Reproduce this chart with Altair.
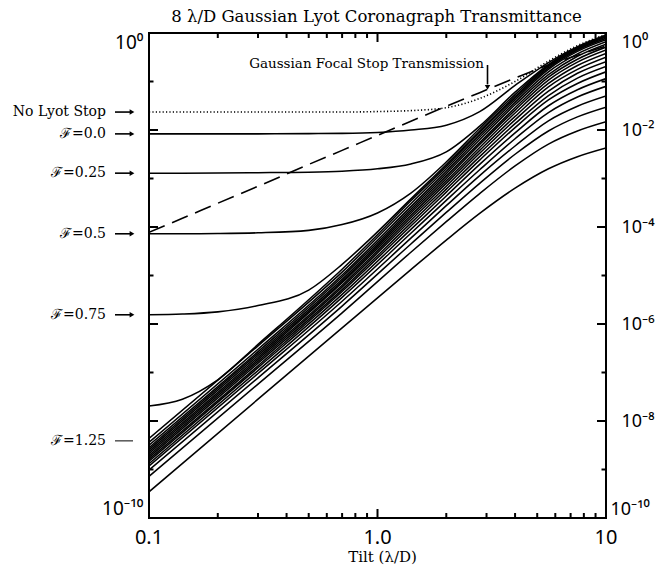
import altair as alt
import pandas as pd

# ---------------- data (log10 of transmittance) ----------------
X_FULL = [0.1, 0.14, 0.2, 0.3, 0.5, 0.7, 1.0, 1.4, 2.0, 2.8, 4.0, 5.6, 7.5, 10.0]
X_BUNDLE = [0.1, 0.3, 0.7, 1.4, 2.0, 2.8, 4.0, 5.6, 7.5, 10.0]

NO_LYOT = [-1.63, -1.63, -1.63, -1.63, -1.63, -1.63, -1.62, -1.60, -1.54, -1.35, -1.00, -0.58, -0.26, -0.03]
FOCAL_STOP = [-4.11, -3.82, -3.51, -3.16, -2.71, -2.42, -2.11, -1.82, -1.51, -1.23, -0.93, -0.66, -0.46, -0.27]

F_000 = [-2.08, -2.08, -2.08, -2.08, -2.075, -2.07, -2.05, -2.00, -1.90, -1.62, -1.08, -0.61, -0.28, -0.04]
F_025 = [-2.89, -2.89, -2.885, -2.88, -2.87, -2.85, -2.80, -2.70, -2.45, -1.92, -1.22, -0.65, -0.30, -0.06]
F_050 = [-4.14, -4.14, -4.135, -4.12, -4.07, -3.95, -3.71, -3.30, -2.66, -1.97, -1.27, -0.67, -0.32, -0.07]
F_075 = [-5.81, -5.795, -5.75, -5.62, -5.30, -4.77, -4.10, -3.42, -2.71, -2.02, -1.31, -0.69, -0.33, -0.08]
F_100 = [-7.69, -7.55, -7.15, -6.42, -5.50, -4.87, -4.16, -3.46, -2.75, -2.05, -1.34, -0.72, -0.35, -0.11]

F_125 = [-8.36, -6.45, -4.93, -3.52, -2.80, -2.10, -1.38, -0.75, -0.38, -0.14]
F_150 = [-8.44, -6.52, -4.99, -3.58, -2.85, -2.15, -1.43, -0.80, -0.43, -0.18]
F_175 = [-8.50, -6.57, -5.03, -3.63, -2.90, -2.20, -1.48, -0.86, -0.48, -0.23]
F_200 = [-8.55, -6.61, -5.08, -3.67, -2.95, -2.26, -1.54, -0.91, -0.54, -0.29]
F_225 = [-8.59, -6.65, -5.12, -3.71, -3.00, -2.30, -1.59, -0.97, -0.60, -0.35]
F_250 = [-8.63, -6.69, -5.15, -3.76, -3.05, -2.36, -1.65, -1.04, -0.67, -0.42]
F_275 = [-8.67, -6.73, -5.20, -3.81, -3.10, -2.42, -1.72, -1.11, -0.75, -0.50]
F_300 = [-8.71, -6.77, -5.24, -3.86, -3.16, -2.48, -1.79, -1.20, -0.83, -0.59]
F_325 = [-8.75, -6.81, -5.29, -3.92, -3.22, -2.55, -1.87, -1.29, -0.93, -0.69]
F_350 = [-8.79, -6.86, -5.33, -3.98, -3.28, -2.62, -1.95, -1.38, -1.04, -0.80]
F_375 = [-8.83, -6.90, -5.39, -4.05, -3.36, -2.71, -2.06, -1.50, -1.17, -0.94]
F_400 = [-8.88, -6.96, -5.45, -4.13, -3.45, -2.82, -2.18, -1.64, -1.32, -1.10]
F_425 = [-8.93, -7.02, -5.53, -4.23, -3.56, -2.94, -2.33, -1.81, -1.51, -1.30]
F_450 = [-9.01, -7.11, -5.63, -4.35, -3.70, -3.10, -2.50, -2.02, -1.73, -1.53]
F_475 = [-9.14, -7.24, -5.77, -4.52, -3.89, -3.31, -2.74, -2.29, -2.02, -1.83]
F_500 = [-9.46, -7.55, -6.08, -4.88, -4.27, -3.72, -3.20, -2.80, -2.55, -2.37]

FULL_NAMES = ["0.0", "0.25", "0.5", "0.75", "1.0"]
FULL_CURVES = [F_000, F_025, F_050, F_075, F_100]
BUNDLE_NAMES = ["1.25", "1.5", "1.75", "2.0", "2.25", "2.5", "2.75", "3.0", "3.25",
                "3.5", "3.75", "4.0", "4.25", "4.5", "4.75", "5.0"]
BUNDLE_CURVES = [F_125, F_150, F_175, F_200, F_225, F_250, F_275, F_300, F_325,
                 F_350, F_375, F_400, F_425, F_450, F_475, F_500]

LABEL_TEXT = ["No Lyot Stop", "\u2131=0.0", "\u2131=0.25", "\u2131=0.5", "\u2131=0.75", "\u2131=1.25"]
LABEL_LOGY = [-1.63, -2.08, -2.89, -4.14, -5.81, -8.41]

X_TICK_MINOR = [0.2, 0.3, 0.4, 0.5, 0.6, 0.7, 0.8, 0.9, 2, 3, 4, 5, 6, 7, 8, 9]
X_TICK_MAJOR = [1]
Y_TICK_MAJOR = [1e-2, 1e-4, 1e-6, 1e-8]
Y_TICK_MINOR = [1e-1, 1e-3, 1e-5, 1e-7, 1e-9]

X_LABEL_VALUES = [0.1, 1, 10]
X_LABELS = ["0.1", "1.0", "10"]
LEFT_VALUES = [1, 1e-10]
LEFT_LABELS = ["10\u2070", "10\u207b\u00b9\u2070"]
RIGHT_VALUES = [1, 1e-2, 1e-4, 1e-6, 1e-8, 1e-10]
RIGHT_LABELS = ["10\u2070", "10\u207b\u00b2", "10\u207b\u2074", "10\u207b\u2076", "10\u207b\u2078", "10\u207b\u00b9\u2070"]

TITLE = "8 \u03bb/D Gaussian Lyot Coronagraph Transmittance"
X_TITLE = "Tilt (\u03bb/D)"

# ---------------- tables ----------------
rows = []
for name, vals in zip(FULL_NAMES, FULL_CURVES):
    for x, v in zip(X_FULL, vals):
        rows.append({"curve": "F=" + name, "x": x, "y": 10 ** v})
for name, vals in zip(BUNDLE_NAMES, BUNDLE_CURVES):
    for x, v in zip(X_BUNDLE, vals):
        rows.append({"curve": "F=" + name, "x": x, "y": 10 ** v})
df_solid = pd.DataFrame(rows)
df_dot = pd.DataFrame({"x": X_FULL, "y": [10 ** v for v in NO_LYOT]})
df_dash = pd.DataFrame({"x": X_FULL, "y": [10 ** v for v in FOCAL_STOP]})
df_lab = pd.DataFrame({"label": LABEL_TEXT, "y": [10 ** v for v in LABEL_LOGY]})
df_arrow = df_lab.iloc[:5]
df_plain = df_lab.iloc[5:]
df_xlab = pd.DataFrame({"v": X_LABEL_VALUES, "label": X_LABELS})


def cond_expr(values, labels):
    parts = "".join(f"datum.value > {v * 0.5:g} ? '{lab}' : " for v, lab in zip(values[:-1], labels[:-1]))
    return parts + f"'{labels[-1]}'"


W, H = 457, 485
xs = alt.Scale(type="log", domain=[0.1, 10])
ys = alt.Scale(type="log", domain=[1e-10, 1])
SANS = "Noto Sans"
SERIF = "DejaVu Serif"

left_axis = alt.Axis(orient="left", values=LEFT_VALUES, labelExpr=cond_expr(LEFT_VALUES, LEFT_LABELS),
                     ticks=False, domain=False, grid=False, labelFont=SANS, labelFontSize=19,
                     labelColor="black", labelPadding=6, labelFlush=True, title="")
right_axis = alt.Axis(orient="right", values=RIGHT_VALUES, labelExpr=cond_expr(RIGHT_VALUES, RIGHT_LABELS),
                      ticks=False, domain=False, grid=False, labelFont=SANS, labelFontSize=18,
                      labelColor="black",
                      labelPadding={"condition": {"test": "datum.value < 1e-9", "value": 4}, "value": 15},
                      labelFlush=True, title="")

solid = alt.Chart(df_solid).mark_line(color="black", strokeWidth=1.55, interpolate="monotone", clip=True).encode(
    x=alt.X("x:Q", scale=xs, axis=None),
    y=alt.Y("y:Q", scale=ys, axis=left_axis),
    detail="curve:N",
)
dotted = alt.Chart(df_dot).mark_line(color="black", strokeWidth=1.6, strokeDash=[1.2, 2.2],
                                     interpolate="monotone", clip=True).encode(
    x=alt.X("x:Q", scale=xs, axis=None),
    y=alt.Y("y:Q", scale=ys, axis=None),
)
dashed = alt.Chart(df_dash).mark_line(color="black", strokeWidth=1.6, strokeDash=[17, 8],
                                      interpolate="monotone", clip=True).encode(
    x=alt.X("x:Q", scale=xs, axis=None),
    y=alt.Y("y:Q", scale=ys, axis=right_axis),
)

# x tick labels and x title, placed through the x scale
x_labels = alt.Chart(df_xlab).mark_text(align="center", baseline="top", font=SANS, fontSize=20,
                                        color="black").encode(
    x=alt.X("v:Q", scale=xs, axis=None), y=alt.value(H + 10), text="label:N")
x_title = alt.Chart(pd.DataFrame({"t": [X_TITLE]})).mark_text(
    align="center", baseline="alphabetic", font=SERIF, fontSize=15, color="black").encode(
    x=alt.value(W / 2 + 5), y=alt.value(H + 44), text="t:N")

labels = alt.Chart(df_lab).mark_text(align="right", baseline="middle", font=SERIF, fontSize=14,
                                     color="black").encode(
    x=alt.value(-43), y=alt.Y("y:Q", scale=ys, axis=None), text="label:N")
arrow_lines = alt.Chart(df_arrow).mark_rule(color="black", strokeWidth=1.6).encode(
    x=alt.value(-34), x2=alt.value(-19), y=alt.Y("y:Q", scale=ys, axis=None))
arrow_heads = alt.Chart(df_arrow).mark_point(shape="triangle-right", filled=True, color="black",
                                             size=30, opacity=1).encode(
    x=alt.value(-17), y=alt.Y("y:Q", scale=ys, axis=None))
plain_line = alt.Chart(df_plain).mark_rule(color="black", strokeWidth=1).encode(
    x=alt.value(-34), x2=alt.value(-16), y=alt.Y("y:Q", scale=ys, axis=None))

df_note = pd.DataFrame({"x": [2.92], "y": [10 ** -0.722], "text": ["Gaussian Focal Stop Transmission"]})
note = alt.Chart(df_note).mark_text(align="right", baseline="alphabetic", font=SERIF, fontSize=13.5,
                                    color="black").encode(
    x=alt.X("x:Q", scale=xs, axis=None), y=alt.Y("y:Q", scale=ys, axis=None), text="text:N")
df_varrow = pd.DataFrame({"x": [3.03], "y": [10 ** -0.66], "y2": [10 ** -1.06], "yh": [10 ** -1.12]})
varrow = alt.Chart(df_varrow).mark_rule(color="black", strokeWidth=1.6).encode(
    x=alt.X("x:Q", scale=xs, axis=None), y=alt.Y("y:Q", scale=ys, axis=None), y2="y2:Q")
vhead = alt.Chart(df_varrow).mark_point(shape="triangle-down", filled=True, color="black", size=30,
                                        opacity=1).encode(
    x=alt.X("x:Q", scale=xs, axis=None), y=alt.Y("yh:Q", scale=ys, axis=None))

title = alt.Chart(pd.DataFrame({"t": [TITLE]})).mark_text(
    align="center", baseline="alphabetic", font=SERIF, fontSize=16.5, color="black").encode(
    x=alt.value(W / 2 - 1), y=alt.value(-11.5), text="t:N")


def xticks(vals, length):
    base = alt.Chart(pd.DataFrame({"v": vals})).mark_rule(color="black", strokeWidth=2)
    enc = alt.X("v:Q", scale=xs, axis=None)
    return [base.encode(x=enc, y=alt.value(H), y2=alt.value(H - length)),
            base.encode(x=enc, y=alt.value(0), y2=alt.value(length))]


def yticks(vals, length):
    base = alt.Chart(pd.DataFrame({"v": vals})).mark_rule(color="black", strokeWidth=2)
    enc = alt.Y("v:Q", scale=ys, axis=None)
    return [base.encode(y=enc, x=alt.value(0), x2=alt.value(length)),
            base.encode(y=enc, x=alt.value(W), x2=alt.value(W - length))]


tick_layers = xticks(X_TICK_MINOR, 5) + xticks(X_TICK_MAJOR, 9) + yticks(Y_TICK_MINOR, 4.5) + yticks(Y_TICK_MAJOR, 9)

chart = alt.layer(
    solid, dotted, dashed, *tick_layers, labels, arrow_lines, arrow_heads, plain_line,
    note, varrow, vhead, title, x_labels, x_title
).resolve_axis(y="independent").properties(
    width=W, height=H,
    autosize=alt.AutoSizeParams(type="none"),
    padding={"left": 141, "top": 25, "right": 53, "bottom": 49},
).configure_view(stroke="black", strokeWidth=2)

chart.save("out.html", embed_options={"renderer": "svg", "actions": False})
